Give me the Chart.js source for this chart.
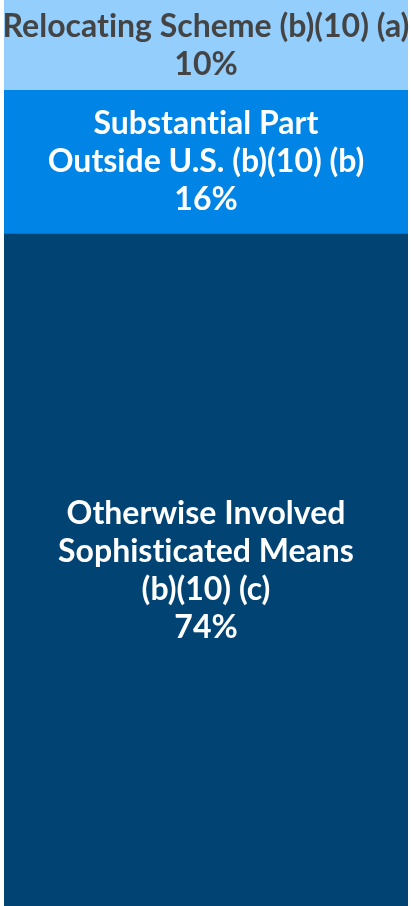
<!DOCTYPE html>
<html>
<head>
<meta charset="utf-8">
<script src="https://cdn.jsdelivr.net/npm/chart.js@4"></script>
<style>
  html, body { margin: 0; padding: 0; background: #fff; overflow: hidden; }
  #wrap { width: 411px; height: 906px; position: relative; }
</style>
</head>
<body>
<div id="wrap"><canvas id="chart"></canvas></div>
<script>
// data
const categories = ["Relocating Scheme (b)(10) (a)", "Substantial Part Outside U.S. (b)(10) (b)", "Otherwise Involved Sophisticated Means (b)(10) (c)"];
const labelLines = [
  ["Relocating Scheme (b)(10) (a)"],
  ["Substantial Part", "Outside U.S. (b)(10) (b)"],
  ["Otherwise Involved", "Sophisticated Means", "(b)(10) (c)"]
];
const shares = [9.9, 15.85, 74.25];
const shareLabels = ["10%", "16%", "74%"];
const colors = ["#93cefd", "#0084e6", "#014373"];
const textColors = ["#444444", "#ffffff", "#ffffff"];

// draw the text inside each block
const blockLabels = {
  id: "blockLabels",
  afterDatasetsDraw(chart) {
    const ctx = chart.ctx;
    ctx.save();
    ctx.font = "bold 32px Lato";
    ctx.textAlign = "center";
    ctx.textBaseline = "alphabetic";
    ctx.textRendering = "optimizeSpeed"; // no "ti" ligature
    chart.data.datasets.forEach((ds, i) => {
      const el = chart.getDatasetMeta(i).data[0];
      const lines = labelLines[i].concat([shareLabels[i]]);
      const lh = 38;
      const mid = (el.y + el.base) / 2 + 11;
      const start = mid - (lines.length - 1) * lh / 2;
      ctx.fillStyle = textColors[i];
      lines.forEach((t, k) => ctx.fillText(t, el.x, start + k * lh));
    });
    ctx.restore();
  }
};

const ctx = document.getElementById("chart").getContext("2d");
new Chart(ctx, {
  type: "bar",
  data: {
    labels: [""],
    datasets: categories.map((c, i) => ({
      label: c,
      data: [shares[i]],
      backgroundColor: colors[i],
      borderWidth: 0,
      barPercentage: 1,
      categoryPercentage: 1
    }))
  },
  options: {
    responsive: true,
    maintainAspectRatio: false,
    animation: false,
    layout: { padding: { left: 4, right: 3, top: 0, bottom: 0 } },
    scales: {
      x: { stacked: true, display: false },
      y: { stacked: true, display: false, reverse: true, min: 0, max: 100 }
    },
    plugins: {
      legend: { display: false },
      tooltip: { enabled: false }
    }
  },
  plugins: [blockLabels]
});
</script>
</body>
</html>
